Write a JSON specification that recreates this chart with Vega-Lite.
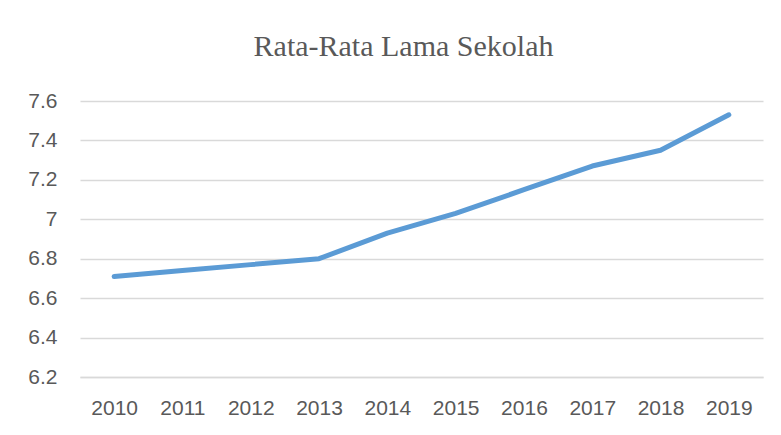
{
  "$schema": "https://vega.github.io/schema/vega-lite/v6.json",
  "autosize": "none",
  "width": 683,
  "height": 276,
  "padding": {"left": 80, "top": 101, "right": 18, "bottom": 58},
  "background": "white",
  "title": {
    "text": "Rata-Rata Lama Sekolah",
    "font": "Liberation Serif",
    "fontSize": 30,
    "fontWeight": "normal",
    "color": "#595959",
    "anchor": "middle",
    "dx": -18,
    "offset": 28
  },
  "data": {
    "values": [
      {"tahun": "2010", "nilai": 6.71},
      {"tahun": "2011", "nilai": 6.74},
      {"tahun": "2012", "nilai": 6.77},
      {"tahun": "2013", "nilai": 6.80},
      {"tahun": "2014", "nilai": 6.93},
      {"tahun": "2015", "nilai": 7.03},
      {"tahun": "2016", "nilai": 7.15},
      {"tahun": "2017", "nilai": 7.27},
      {"tahun": "2018", "nilai": 7.35},
      {"tahun": "2019", "nilai": 7.53}
    ]
  },
  "mark": {"type": "line", "color": "#5b9bd5", "strokeWidth": 5, "strokeCap": "round", "strokeJoin": "round"},
  "encoding": {
    "x": {
      "field": "tahun",
      "type": "ordinal",
      "scale": {"type": "point", "padding": 0.5},
      "axis": {
        "title": null,
        "labelAngle": 0,
        "ticks": false,
        "domain": true,
        "domainColor": "#d9d9d9",
        "domainWidth": 1.5,
        "labelFont": "Liberation Sans",
        "labelFontSize": 21,
        "labelColor": "#595959",
        "labelPadding": 20,
        "grid": false
      }
    },
    "y": {
      "field": "nilai",
      "type": "quantitative",
      "scale": {"domain": [6.2, 7.6], "nice": false, "zero": false},
      "axis": {
        "title": null,
        "values": [6.2, 6.4, 6.6, 6.8, 7.0, 7.2, 7.4, 7.6],
        "format": ".1~f",
        "ticks": false,
        "domain": false,
        "grid": true,
        "gridColor": "#d9d9d9",
        "gridWidth": 1.5,
        "labelFont": "Liberation Sans",
        "labelFontSize": 21,
        "labelColor": "#595959",
        "labelPadding": 23
      }
    }
  },
  "config": {"view": {"stroke": null}}
}
